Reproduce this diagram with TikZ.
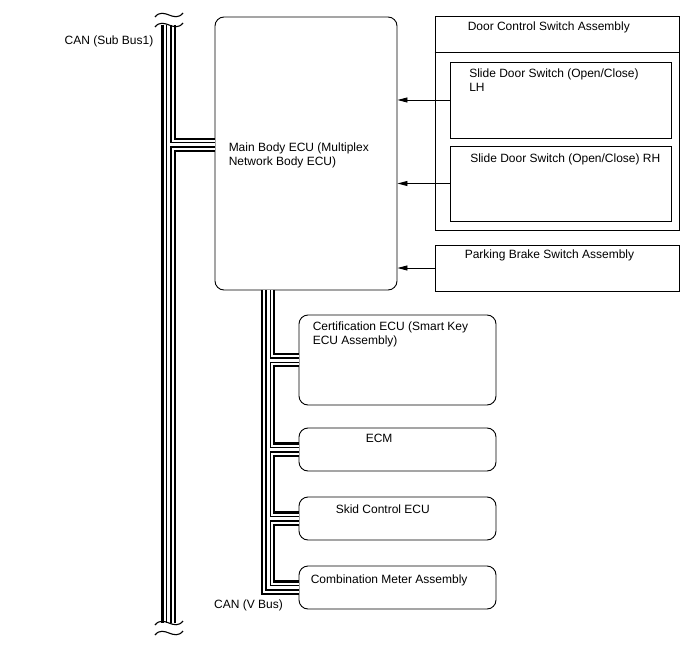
\documentclass[tikz,border=0pt]{standalone}
\usepackage{fontspec}
\setmainfont{Liberation Sans}
\usetikzlibrary{arrows.meta, positioning}

\begin{document}
\begin{tikzpicture}[
        x=1pt, y=-1pt,
        box/.style={rectangle, draw, line width=0.9pt, inner sep=0pt},
        ecu/.style={box, rounded corners=9pt},
        lbl/.style={inner sep=0pt, anchor=north west, align=left, font=\fontsize{12}{14}\selectfont},
        arr/.style={-{Triangle[length=10pt, width=5pt]}, line width=0.9pt},
        canbus/.style={draw=white, line width=3pt, preaction={draw=black, line width=6pt, preaction={draw=white, line width=10pt, preaction={draw=black, line width=14.5pt}}}},
        brk/.style={line width=1.1pt}
        ]
        \useasboundingbox (0,0) rectangle (688,658);
        % boxes
        \node[ecu, minimum width=182pt, minimum height=273pt] (mainecu) at (306,153.5) {};
        \node[box, minimum width=244pt, minimum height=214pt] (doorsw) at (557,123) {};
        \node[box, minimum width=221pt, minimum height=76pt] (slidelh) at (561,100) {};
        \node[box, minimum width=221pt, minimum height=75pt] (sliderh) at (561,183.5) {};
        \node[box, minimum width=244pt, minimum height=46pt] (parksw) at (557,268) {};
        \node[ecu, minimum width=197pt, minimum height=90pt] (certecu) at (397.5,360) {};
        \node[ecu, minimum width=197pt, minimum height=43pt] (ecm) at (397.5,449.5) {};
        \node[ecu, minimum width=197pt, minimum height=43pt] (skid) at (397.5,518.5) {};
        \node[ecu, minimum width=197pt, minimum height=43pt] (meter) at (397.5,587.5) {};
        \draw[line width=0.9pt] ([yshift=-37pt]doorsw.north west) -- ([yshift=-37pt]doorsw.north east);
        % labels
        \node[lbl, below right=126pt and 14pt of mainecu.north west] (mainlbl) {Main Body ECU (Multiplex\\Network Body ECU)};
        \node[lbl, below right=6pt and 33pt of doorsw.north west] (doorlbl) {Door Control Switch Assembly};
        \node[lbl, below right=7pt and 19pt of slidelh.north west] (lhlbl) {Slide Door Switch (Open/Close)\\LH};
        \node[lbl, below right=8pt and 20pt of sliderh.north west] (rhlbl) {Slide Door Switch (Open/Close) RH};
        \node[lbl, below right=5pt and 30pt of parksw.north west] (parklbl) {Parking Brake Switch Assembly};
        \node[lbl, below right=7pt and 14pt of certecu.north west] (certlbl) {Certification ECU (Smart Key\\ECU Assembly)};
        \node[lbl, below right=6pt and 67pt of ecm.north west] (ecmlbl) {ECM};
        \node[lbl, below right=8pt and 37pt of skid.north west] (skidlbl) {Skid Control ECU};
        \node[lbl, below right=9pt and 12pt of meter.north west] (meterlbl) {Combination Meter Assembly};
        % switch signals
        \draw[arr] (slidelh.west) -- (slidelh.west -| mainecu.east);
        \draw[arr] (sliderh.west) -- (sliderh.west -| mainecu.east);
        \draw[arr] (parksw.west) -- (parksw.west -| mainecu.east);
        % CAN (Sub Bus1)
        \coordinate (subtop) at (168.5,25);
        \coordinate (subbot) at (168.5,623);
        \coordinate (ecutap) at ([yshift=8.5pt]mainecu.west);
        \draw[canbus] (subtop) -- (subbot) (subtop |- ecutap) -- (ecutap);
        \node[lbl, below left=11pt and 15pt of subtop] (sublbl) {CAN (Sub Bus1)};
        % CAN (V Bus)
        \coordinate (vtop) at ([xshift=-38pt]mainecu.south);
        \draw[canbus] (vtop) -- (vtop |- meter.west) -- (meter.west)
            (vtop |- certecu.west) -- (certecu.west)
            (vtop |- ecm.west) -- (ecm.west)
            (vtop |- skid.west) -- (skid.west);
        \node[lbl] (vlbl) at (214,600) {CAN (V Bus)};
        % breaks
        \draw[brk] (155,17) .. controls (164,6) and (174,24) .. (183,13);
        \draw[brk] (155,27) .. controls (164,16) and (174,34) .. (183,23);
        \draw[brk] (155,625) .. controls (164,614) and (174,632) .. (183,621);
        \draw[brk] (155,635) .. controls (164,624) and (174,642) .. (183,631);
    \end{tikzpicture}
\end{document}
